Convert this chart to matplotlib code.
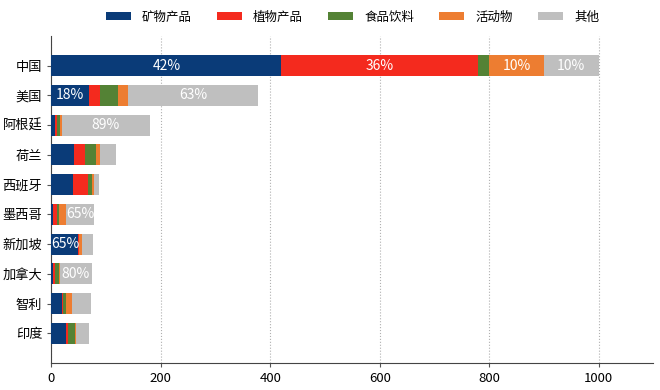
import numpy as np
import matplotlib
matplotlib.use("Agg")
import matplotlib.pyplot as plt

plt.rcParams['font.family'] = ['Noto Sans CJK SC', 'DejaVu Sans']

countries = ["中国", "美国", "阿根廷", "荷兰", "西班牙", "墨西哥", "新加坡", "加拿大", "智利", "印度"]
series_names = ["矿物产品", "植物产品", "食品饮料", "活动物", "其他"]
colors = ["#0a3b78", "#f42a1e", "#548235", "#ed7d31", "#bfbfbf"]

mineral = [420, 68, 6, 42, 40, 2, 49, 3, 20, 27]
plant = [360, 21, 4, 19, 26, 9, 1, 3, 1, 4]
food = [20, 33, 6, 20, 8, 2, 1, 7, 5, 12]
animal = [100, 18, 3, 8, 3, 14, 5, 2, 12, 1]
other = [100, 237, 161, 28, 10, 50, 19, 59, 34, 24]

series = [mineral, plant, food, animal, other]
totals = np.sum(series, axis=0)

fig = plt.figure(figsize=(6.6, 3.9), dpi=100)
ax = fig.add_axes([0.078, 0.069, 0.912, 0.839])

y = np.arange(len(countries))
left = np.zeros(len(countries))
for name, vals, c in zip(series_names, series, colors):
    vals = np.array(vals, dtype=float)
    ax.barh(y, vals, left=left, height=0.7, color=c, label=name, zorder=3)
    # only label the wide segments
    for i, v in enumerate(vals):
        if v >= 45:
            ax.text(left[i] + v / 2, y[i], f"{v / totals[i]:.0%}", ha="center", va="center",
                    color="white", fontsize=10, zorder=4)
    left += vals

ax.set_yticks(y)
ax.set_yticklabels(countries, fontsize=9.5)
ax.set_ylim(len(countries), -1)
ax.set_xlim(0, 1100)
ax.set_xticks([0, 200, 400, 600, 800, 1000])
ax.tick_params(axis="x", labelsize=9.5, length=3, color="#555555")
ax.tick_params(axis="y", length=3, color="#555555")
ax.grid(axis="x", linestyle=":", color="#b0b0b0", linewidth=0.8, zorder=0)
for s in ["top", "right"]:
    ax.spines[s].set_visible(False)
for s in ["left", "bottom"]:
    ax.spines[s].set_color("#444444")

fig.legend(loc="center", bbox_to_anchor=(0.534, 0.956), ncol=5, frameon=False,
           fontsize=9, handlelength=2.0, handleheight=0.65, handletextpad=0.9,
           columnspacing=2.0)

fig.savefig("out.png", dpi=100)
